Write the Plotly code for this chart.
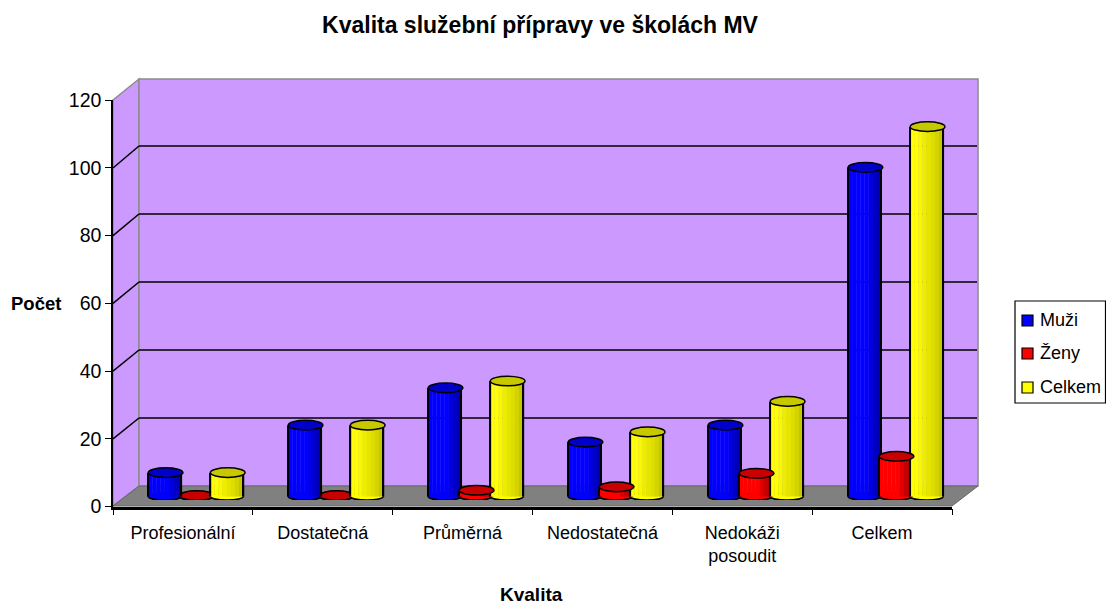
import plotly.graph_objects as go

categories = ["Profesionální", "Dostatečná", "Průměrná", "Nedostatečná", "Nedokáži<br>posoudit", "Celkem"]
muzi = [8, 22, 33, 17, 22, 98]
zeny = [0, 0, 2, 3, 7, 12]
celkem = [8, 22, 35, 20, 29, 110]
y_ticks = [0, 20, 40, 60, 80, 100, 120]

W, H = 1106, 604
FONT = "Liberation Sans"
WALL = "#CC99FF"
FLOOR = "#808080"
GRAY = "#8C8C8C"

# blue, red and yellow cylinders: name, values, colour, cap colour, left edge in a category, cap lift, shading
series = [
    ("Muži", muzi, (0, 0, 255), "#0000C8", 0.166, 0, [1, 1, 1, 1, 1, 0.88, 0.78, 0.7]),
    ("Ženy", zeny, (255, 0, 0), "#C80000", 0.388, 0.8, [1, 1, 1, 1, 1, 0.88, 0.78, 0.7]),
    ("Celkem", celkem, (255, 255, 0), "#C8C800", 0.61, 0, [1, 1, 0.97, 0.93, 0.9, 0.87, 0.83, 0.78]),
]
BAR_W = 0.236
LIFT = 1  # body starts a bit above the floor, the base ellipse closes it


def px(x):
    return x / W


def py(y):
    return 1 - y / H


def shade(rgb, k):
    return "rgb(%d,%d,%d)" % tuple(int(c * k) for c in rgb)


def poly(points, fill, line=None, width=1):
    path = "M " + " L ".join(f"{px(x)},{py(y)}" for x, y in points) + " Z"
    return dict(type="path", xref="paper", yref="paper", path=path, fillcolor=fill,
                line=dict(color=line if line else fill, width=width), layer="below")


def seg(x0, y0, x1, y1, color, width=1.5, layer="below"):
    return dict(type="line", xref="paper", yref="paper", x0=px(x0), y0=py(y0), x1=px(x1), y1=py(y1),
                line=dict(color=color, width=width), layer=layer)


fig = go.Figure()

# front axes: only carry the labels and ticks
fig.add_trace(go.Scatter(x=categories, y=[0] * len(categories), mode="markers",
                         marker=dict(opacity=0), showlegend=False, hoverinfo="skip",
                         xaxis="x", yaxis="y"))

shapes = []
# walls and floor
shapes.append(poly([(113, 100), (139, 79), (139, 486), (113, 506)], WALL, GRAY, 1.5))
shapes.append(poly([(139, 79), (978, 79), (978, 486), (139, 486)], WALL, GRAY, 1.5))
shapes.append(poly([(113, 506), (139, 486), (978, 486), (952, 506)], FLOOR, "#666666", 1))
for v in y_ticks[1:-1]:
    wall_y = 486 - 3.4 * v
    shapes.append(seg(139, wall_y, 977, wall_y, "black"))
    shapes.append(seg(113, 506.5 - 3.385 * v, 139, wall_y, "black"))

for name, values, rgb, cap, left, cap_lift, shading in series:
    xs = [i + left for i in range(len(values))]
    # base ellipses sit under the bodies
    for x in xs:
        shapes.append(dict(type="circle", xref="x2", yref="y2", x0=x, x1=x + BAR_W, y0=0, y1=2,
                           fillcolor=shade(rgb, 1), line=dict(color="black", width=1.5), layer="between"))
    heights = [max(v + cap_lift - LIFT, 0) for v in values]
    n = len(shading)
    for k, s in enumerate(shading):
        fig.add_trace(go.Bar(
            x=[x + BAR_W * k / n + BAR_W / (2 * n) for x in xs], y=heights, base=LIFT,
            width=BAR_W / n + 0.002, name=name, marker=dict(color=shade(rgb, s), line_width=0),
            showlegend=False, xaxis="x2", yaxis="y2",
        ))
    # side outlines of the cylinder
    for edge in (0, BAR_W):
        fig.add_trace(go.Bar(
            x=[x + edge for x in xs], y=heights, base=LIFT, width=0.012, name=name,
            marker=dict(color="black", line_width=0), showlegend=False, hoverinfo="skip",
            xaxis="x2", yaxis="y2",
        ))
    # top caps, an empty column is only a disc behind its neighbours
    for x, v in zip(xs, values):
        top = max(v + cap_lift, LIFT + 0.2)
        shapes.append(dict(type="circle", xref="x2", yref="y2", x0=x, x1=x + BAR_W + 0.012,
                           y0=top - 1.35, y1=top + 1.5, fillcolor=cap,
                           line=dict(color="black", width=1.5), layer="above" if v else "between"))

# legend box drawn by hand, the native one has too wide swatches for this box
shapes.append(dict(type="rect", xref="paper", yref="paper", x0=px(1015), x1=px(1105.5), y0=py(403), y1=py(301),
                   fillcolor="white", line=dict(color="black", width=1.2), layer="above"))
annotations = []
for s, ly in zip(series, [320, 353, 387]):
    shapes.append(dict(type="rect", xref="paper", yref="paper", x0=px(1022), x1=px(1033), y0=py(ly + 6), y1=py(ly - 5),
                       fillcolor=shade(s[2], 1), line=dict(color="black", width=1.2), layer="above"))
    annotations.append(dict(text=s[0], xref="paper", yref="paper", x=px(1038), y=py(ly), xanchor="left",
                            yanchor="middle", showarrow=False, font=dict(family=FONT, size=18, color="black")))

annotations.append(dict(text="<b>Počet</b>", xref="paper", yref="paper", x=px(63), y=py(303), xanchor="right",
                        yanchor="middle", showarrow=False, font=dict(family=FONT, size=18.5, color="black")))
annotations.append(dict(text="<b>Kvalita</b>", xref="paper", yref="paper", x=px(531), y=py(594), xanchor="center",
                        yanchor="middle", showarrow=False, font=dict(family=FONT, size=19, color="black")))

fig.update_layout(
    width=W, height=H, autosize=False,
    margin=dict(l=0, r=0, t=0, b=0, pad=0),
    paper_bgcolor="white", plot_bgcolor="rgba(0,0,0,0)",
    barmode="overlay", showlegend=False,
    title=dict(text="<b>Kvalita služební přípravy ve školách MV</b>", x=px(540), y=py(25), automargin=False,
               xanchor="center", yanchor="middle", font=dict(family=FONT, size=23, color="black")),
    font=dict(family=FONT, size=18, color="black"),
    shapes=shapes, annotations=annotations,
    xaxis=dict(domain=[px(113), px(952)], type="category", categoryorder="array", categoryarray=categories,
               range=[-0.5, 5.5], tickson="boundaries", ticks="outside", ticklen=6, tickcolor="black",
               showline=True, linecolor="black", linewidth=2.5, showgrid=False, zeroline=False, automargin=False,
               ticklabelstandoff=8, tickfont=dict(family=FONT, size=18, color="black"), anchor="y"),
    yaxis=dict(domain=[py(506.5), py(100)], range=[0, 120], tickvals=y_ticks, ticks="outside", ticklen=6,
               tickcolor="black", showline=True, linecolor="black", linewidth=1.5, showgrid=False, automargin=False,
               zeroline=False, tickfont=dict(family=FONT, size=19.5, color="black"), anchor="x"),
    # bars stand further back on the floor, so they get their own shifted axes
    xaxis2=dict(domain=[px(125), px(964.8)], range=[0, 6], visible=False, anchor="y2"),
    yaxis2=dict(domain=[py(500), py(93)], range=[0, 120], visible=False, anchor="x2"),
)

fig.write_html("out.html", config=dict(displayModeBar=False), post_script="document.body.style.margin='0'")
